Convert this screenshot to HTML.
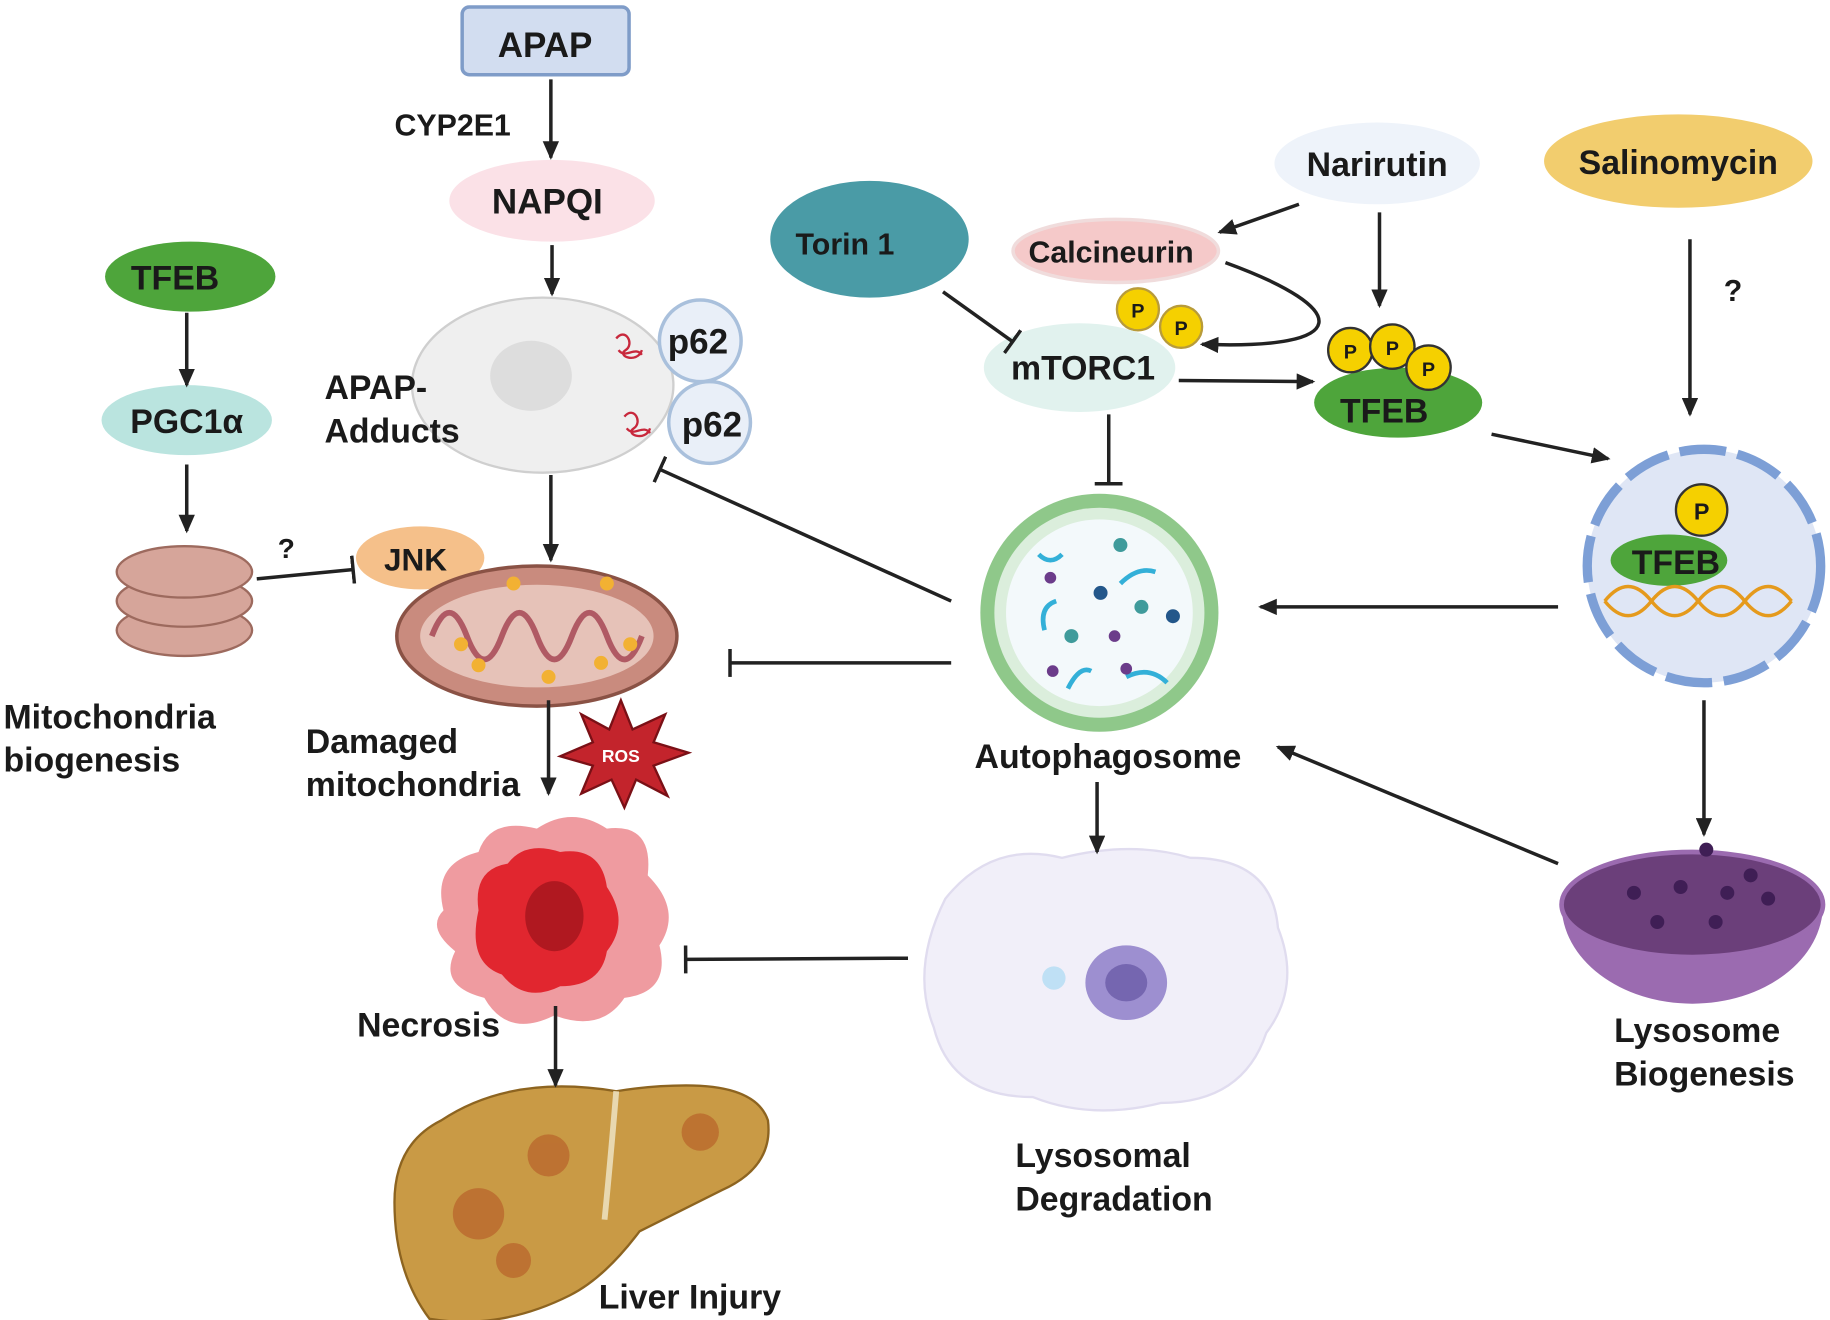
<!DOCTYPE html>
<html><head><meta charset="utf-8"><style>
html,body{margin:0;padding:0;background:#fff}
svg{display:block}
text{font-family:"Liberation Sans",Arial,sans-serif;font-weight:bold;fill:#1a1a1a}
</style></head><body>
<svg width="1830" height="1320" viewBox="0 0 1568 1131" xmlns="http://www.w3.org/2000/svg">
<defs>
<marker id="ah" markerWidth="16" markerHeight="14" refX="14" refY="7" orient="auto" markerUnits="userSpaceOnUse" viewBox="0 0 16 14"><path d="M0,0 L16,7 L0,14 z" fill="#222"/></marker>
<marker id="bar" markerWidth="4" markerHeight="24" refX="2" refY="12" orient="auto" markerUnits="userSpaceOnUse"><rect x="0" y="0" width="3" height="24" fill="#222"/></marker>
</defs>
<!-- APAP -->
<rect x="396" y="6" width="143" height="58" rx="6" fill="#d2ddf0" stroke="#7f9cc8" stroke-width="3"/>
<text x="467" y="49" font-size="30" text-anchor="middle">APAP</text>
<text x="338" y="116" font-size="26">CYP2E1</text>
<ellipse cx="473" cy="172" rx="88" ry="35" fill="#fbe1e7"/>
<text x="469" y="183" font-size="30" text-anchor="middle">NAPQI</text>
<!-- cell -->
<ellipse cx="465" cy="330" rx="112" ry="75" fill="#efefef" stroke="#cfcfcf" stroke-width="2"/>
<ellipse cx="455" cy="322" rx="35" ry="30" fill="#dddddd"/>
<g stroke="#c8283c" stroke-width="2" fill="none"><path d="M528,290 c8,-10 16,5 8,10 c-8,5 10,12 14,0 M530,300 c6,8 14,-4 20,4"/><path d="M535,357 c8,-10 16,5 8,10 c-8,5 10,12 14,0 M537,367 c6,8 14,-4 20,4"/></g>
<circle cx="600" cy="292" r="35" fill="#e9eff8" stroke="#a9c0dc" stroke-width="3"/>
<circle cx="608" cy="362" r="35" fill="#e9eff8" stroke="#a9c0dc" stroke-width="3"/>
<text x="598" y="303" font-size="30" text-anchor="middle">p62</text>
<text x="610" y="374" font-size="30" text-anchor="middle">p62</text>
<text x="278" y="342" font-size="29">APAP-</text>
<text x="278" y="379" font-size="29">Adducts</text>
<!-- TFEB left -->
<ellipse cx="163" cy="237" rx="73" ry="30" fill="#4ea53b"/>
<text x="150" y="248" font-size="29" text-anchor="middle">TFEB</text>
<ellipse cx="160" cy="360" rx="73" ry="30" fill="#bae4df"/>
<text x="160" y="371" font-size="29" text-anchor="middle">PGC1α</text>
<g fill="#d6a59a" stroke="#9d6a5e" stroke-width="2">
<ellipse cx="158" cy="540" rx="58" ry="22"/><ellipse cx="158" cy="515" rx="58" ry="22"/><ellipse cx="158" cy="490" rx="58" ry="22"/>
</g>
<text x="3" y="624" font-size="29">Mitochondria</text>
<text x="3" y="661" font-size="29">biogenesis</text>
<text x="238" y="478" font-size="24" font-weight="normal">?</text>
<ellipse cx="360" cy="478" rx="55" ry="27" fill="#f5c08a"/>
<text x="356" y="489" font-size="27" text-anchor="middle">JNK</text>
<!-- damaged mito -->
<ellipse cx="460" cy="545" rx="120" ry="60" fill="#c98b7e" stroke="#8a5245" stroke-width="3"/>
<ellipse cx="460" cy="545" rx="100" ry="44" fill="#e6c2b8"/>
<path d="M370,545 q15,-40 30,0 t30,0 t30,0 t30,0 t30,0 t30,0" stroke="#b05a64" stroke-width="5" fill="none"/>
<g fill="#f2b133"><circle cx="395" cy="552" r="6"/><circle cx="440" cy="500" r="6"/><circle cx="520" cy="500" r="6"/><circle cx="540" cy="552" r="6"/><circle cx="470" cy="580" r="6"/><circle cx="410" cy="570" r="6"/><circle cx="515" cy="568" r="6"/></g>
<text x="262" y="645" font-size="29">Damaged</text>
<text x="262" y="682" font-size="29">mitochondria</text>
<polygon points="532,600 542,625 570,612 560,636 590,645 560,656 572,682 545,668 535,692 524,668 498,680 508,656 480,648 508,636 498,612 522,625" fill="#c3242c" stroke="#7a1016" stroke-width="2"/>
<text x="532" y="653" font-size="15" text-anchor="middle" style="fill:#fff">ROS</text>
<!-- necrosis -->
<path d="M380,780 q-10,-40 30,-50 q10,-30 50,-20 q30,-20 60,0 q40,-5 35,40 q30,30 10,60 q10,40 -30,45 q-20,30 -60,15 q-40,20 -60,-15 q-40,-10 -25,-40 q-25,-20 -10,-35z" fill="#ef9ba0"/>
<path d="M410,780 q-5,-35 25,-40 q15,-20 45,-10 q35,-5 40,30 q20,30 0,55 q-5,30 -40,30 q-30,15 -50,-10 q-30,-10 -20,-55z" fill="#e1262f"/>
<ellipse cx="475" cy="785" rx="25" ry="30" fill="#b01820"/>
<text x="306" y="888" font-size="29">Necrosis</text>
<!-- liver -->
<path d="M378,960 q60,-40 150,-25 q30,-5 60,-5 q60,0 70,30 q5,40 -40,60 q-40,20 -70,35 q-30,40 -60,55 q-60,30 -120,20 q-30,-40 -30,-100 q0,-50 40,-70z" fill="#c99a45" stroke="#8d6420" stroke-width="2"/>
<path d="M528,935 q-5,60 -10,110" stroke="#e8d8b0" stroke-width="5" fill="none"/>
<g fill="#b8622a" opacity="0.7"><circle cx="410" cy="1040" r="22"/><circle cx="470" cy="990" r="18"/><circle cx="600" cy="970" r="16"/><circle cx="440" cy="1080" r="15"/></g>
<text x="513" y="1121" font-size="29">Liver Injury</text>
<!-- right side -->
<ellipse cx="745" cy="205" rx="85" ry="50" fill="#4a9ba6"/>
<text x="724" y="218" font-size="26" text-anchor="middle">Torin 1</text>
<ellipse cx="1180" cy="140" rx="88" ry="35" fill="#eef3fa"/>
<text x="1180" y="151" font-size="29" text-anchor="middle">Narirutin</text>
<ellipse cx="1438" cy="138" rx="115" ry="40" fill="#f2cd6e"/>
<text x="1438" y="149" font-size="29" text-anchor="middle">Salinomycin</text>
<text x="1477" y="258" font-size="26" font-weight="normal">?</text>
<ellipse cx="956" cy="215" rx="88" ry="27" fill="#f5c9c9" stroke="#f0dcdc" stroke-width="3"/>
<text x="952" y="225" font-size="26" text-anchor="middle">Calcineurin</text>
<g fill="#f5d000" stroke="#b89b3a" stroke-width="2"><circle cx="975" cy="265" r="18"/><circle cx="1012" cy="280" r="18"/></g>
<text x="975" y="272" font-size="17" text-anchor="middle">P</text><text x="1012" y="287" font-size="17" text-anchor="middle">P</text>
<ellipse cx="925" cy="315" rx="82" ry="38" fill="#e1f2ee"/>
<text x="928" y="325" font-size="29" text-anchor="middle">mTORC1</text>
<ellipse cx="1198" cy="345" rx="72" ry="30" fill="#4ea53b"/>
<g fill="#f5d000" stroke="#333" stroke-width="2"><circle cx="1157" cy="300" r="19"/><circle cx="1193" cy="297" r="19"/><circle cx="1224" cy="315" r="19"/></g>
<text x="1157" y="307" font-size="17" text-anchor="middle">P</text><text x="1193" y="304" font-size="17" text-anchor="middle">P</text><text x="1224" y="322" font-size="17" text-anchor="middle">P</text>
<text x="1186" y="362" font-size="29" text-anchor="middle">TFEB</text>
<!-- autophagosome -->
<circle cx="942" cy="525" r="102" fill="#8fc88a"/>
<circle cx="942" cy="525" r="90" fill="#dbeedc"/>
<circle cx="942" cy="525" r="80" fill="#f3f9fb"/>
<g stroke="#33b0d8" stroke-width="4" fill="none"><path d="M890,475 q10,10 20,0"/><path d="M960,500 q15,-15 30,-10"/><path d="M895,540 q-5,-20 10,-25"/><path d="M965,580 q20,-10 35,5"/><path d="M915,590 q10,-20 20,-15"/></g>
<g><circle cx="960" cy="467" r="6" fill="#3f9b9b"/><circle cx="943" cy="508" r="6" fill="#23578a"/><circle cx="978" cy="520" r="6" fill="#3f9b9b"/><circle cx="1005" cy="528" r="6" fill="#23578a"/><circle cx="918" cy="545" r="6" fill="#3f9b9b"/><circle cx="900" cy="495" r="5" fill="#6b3c8a"/><circle cx="955" cy="545" r="5" fill="#6b3c8a"/><circle cx="902" cy="575" r="5" fill="#6b3c8a"/><circle cx="965" cy="573" r="5" fill="#6b3c8a"/></g>
<text x="835" y="658" font-size="29">Autophagosome</text>
<!-- nucleus -->
<circle cx="1460" cy="485" r="100" fill="#dfe6f5" stroke="#7d9fd6" stroke-width="8" stroke-dasharray="40 10"/>
<ellipse cx="1430" cy="480" rx="50" ry="22" fill="#4ea53b"/>
<circle cx="1458" cy="437" r="22" fill="#f5d000" stroke="#333" stroke-width="2"/>
<text x="1458" y="445" font-size="20" text-anchor="middle">P</text>
<text x="1436" y="492" font-size="29" text-anchor="middle">TFEB</text>
<path d="M1375,515 q20,-25 40,0 t40,0 t40,0 t40,0 M1375,515 q20,25 40,0 t40,0 t40,0 t40,0" stroke="#e59a1c" stroke-width="3" fill="none"/>
<!-- lysosomal degradation cell -->
<path d="M810,770 q40,-50 100,-35 q60,-15 110,0 q70,0 75,60 q20,50 -10,90 q-20,60 -90,60 q-60,15 -110,-5 q-70,0 -85,-60 q-20,-50 10,-110z" fill="#f1eff9" stroke="#e0dcef" stroke-width="2"/>
<ellipse cx="965" cy="842" rx="35" ry="32" fill="#9d8fd0"/>
<ellipse cx="965" cy="842" rx="18" ry="16" fill="#7566b0"/>
<circle cx="903" cy="838" r="10" fill="#bfe0f5"/>
<text x="870" y="1000" font-size="29">Lysosomal</text>
<text x="870" y="1037" font-size="29">Degradation</text>
<!-- lysosome bowl -->
<path d="M1338,775 a112,85 0 0 0 224,0z" fill="#9b6bb0"/>
<ellipse cx="1450" cy="775" rx="112" ry="45" fill="#6b3f7a" stroke="#9b6bb0" stroke-width="4"/>
<g fill="#3f1e55"><circle cx="1462" cy="728" r="6"/><circle cx="1400" cy="765" r="6"/><circle cx="1440" cy="760" r="6"/><circle cx="1480" cy="765" r="6"/><circle cx="1515" cy="770" r="6"/><circle cx="1420" cy="790" r="6"/><circle cx="1470" cy="790" r="6"/><circle cx="1500" cy="750" r="6"/></g>
<text x="1383" y="893" font-size="29">Lysosome</text>
<text x="1383" y="930" font-size="29">Biogenesis</text>
<!-- connectors on top -->
<g stroke="#222" stroke-width="3" fill="none">
<line x1="472" y1="68" x2="472" y2="135" marker-end="url(#ah)"/>
<line x1="473" y1="210" x2="473" y2="252" marker-end="url(#ah)"/>
<line x1="160" y1="268" x2="160" y2="330" marker-end="url(#ah)"/>
<line x1="160" y1="398" x2="160" y2="455" marker-end="url(#ah)"/>
<line x1="220" y1="496" x2="303" y2="488" marker-end="url(#bar)"/>
<line x1="472" y1="407" x2="472" y2="480" marker-end="url(#ah)"/>
<line x1="470" y1="600" x2="470" y2="680" marker-end="url(#ah)"/>
<line x1="476" y1="862" x2="476" y2="930" marker-end="url(#ah)"/>
<line x1="1113" y1="175" x2="1045" y2="199" marker-end="url(#ah)"/>
<line x1="1182" y1="182" x2="1182" y2="262" marker-end="url(#ah)"/>
<path d="M1050,225 C1160,265 1160,300 1030,295" marker-end="url(#ah)"/>
<line x1="808" y1="250" x2="868" y2="293" marker-end="url(#bar)"/>
<line x1="1010" y1="326" x2="1125" y2="327" marker-end="url(#ah)"/>
<line x1="950" y1="355" x2="950" y2="415" marker-end="url(#bar)"/>
<line x1="1278" y1="372" x2="1378" y2="393" marker-end="url(#ah)"/>
<line x1="1448" y1="205" x2="1448" y2="355" marker-end="url(#ah)"/>
<line x1="1335" y1="520" x2="1080" y2="520" marker-end="url(#ah)"/>
<line x1="815" y1="515" x2="565" y2="402" marker-end="url(#bar)"/>
<line x1="815" y1="568" x2="625" y2="568" marker-end="url(#bar)"/>
<line x1="940" y1="670" x2="940" y2="730" marker-end="url(#ah)"/>
<line x1="778" y1="821" x2="587" y2="822" marker-end="url(#bar)"/>
<line x1="1460" y1="600" x2="1460" y2="715" marker-end="url(#ah)"/>
<line x1="1335" y1="740" x2="1095" y2="640" marker-end="url(#ah)"/>
</g>
</svg>
</body></html>
